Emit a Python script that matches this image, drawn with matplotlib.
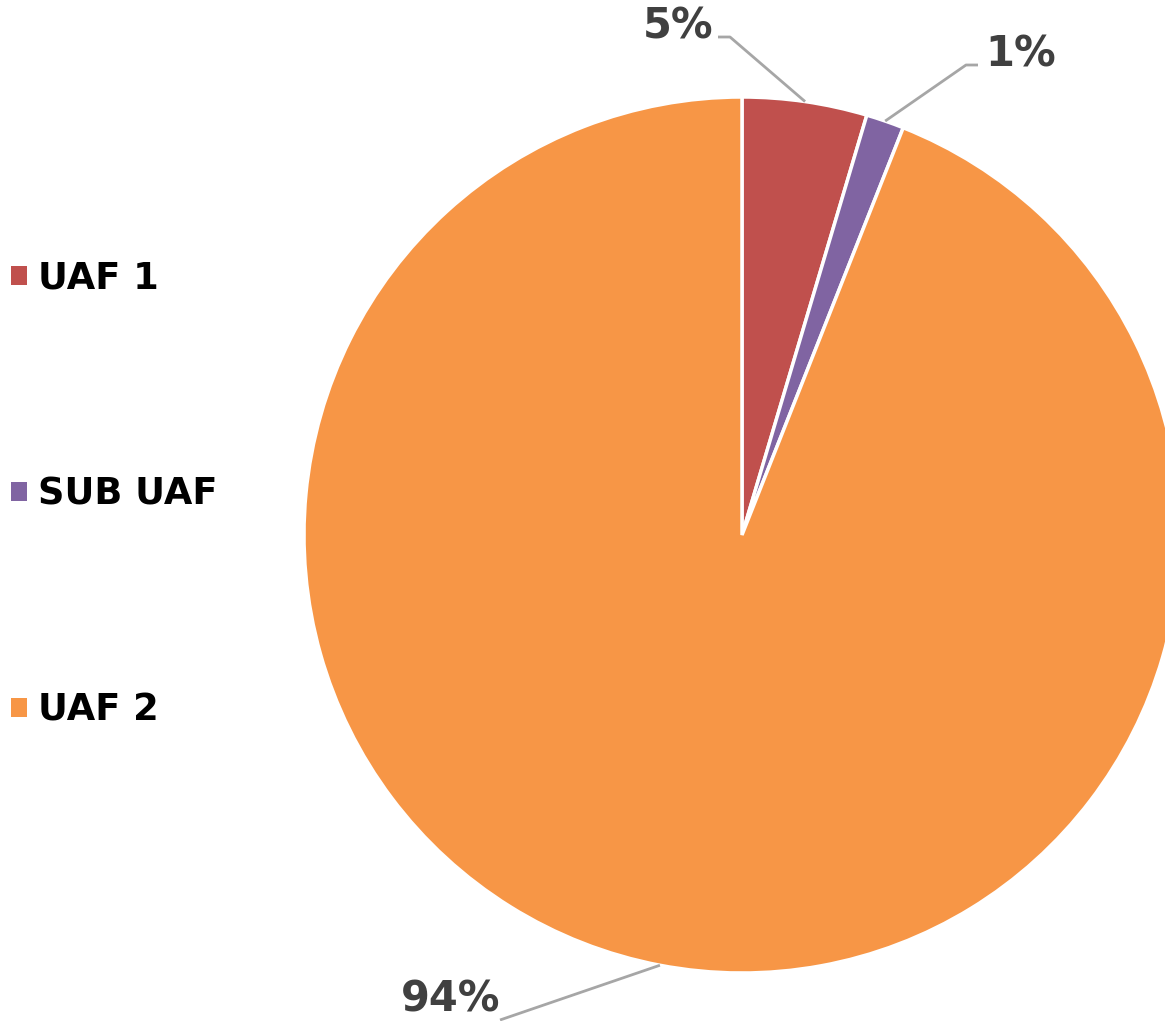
import numpy as np
import matplotlib
matplotlib.use('Agg')
import matplotlib.pyplot as plt

#Data
labels = ['UAF 1', 'SUB UAF', 'UAF 2']
values = [4.6, 1.4, 94.0]
colors = ['#C0504D', '#8064A2', '#F79646']

W, H = 1165, 1021
fig = plt.figure(figsize=(W/100, H/100), dpi=100)

#Pie centre and radius in pixels
cx, cy, R = 742, 535, 438
ax = fig.add_axes([(cx-R)/W, (H-cy-R)/H, 2*R/W, 2*R/H])

wedges, _ = ax.pie(values, colors=colors, startangle=90, counterclock=False, radius=1,
                   wedgeprops=dict(edgecolor='white', linewidth=2.5))
ax.set_xlim(-1, 1)
ax.set_ylim(-1, 1)
ax.axis('off')

def px2d(px, py):
    return (px-cx)/R, (cy-py)/R

#Label layout: (elbow px, end px, text px, ha)
layout = [((730, 37), (718, 37), (713, 26), 'right'),
          ((966, 65), (978, 65), (985, 54), 'left'),
          ((500, 1020), (500, 1020), (500, 1000), 'right')]

total = sum(values)
start = 90.0
for v, (elb, end, tp, ha) in zip(values, layout):
    mid = np.deg2rad(start - v/total*360/2)
    start -= v/total*360
    x0, y0 = np.cos(mid), np.sin(mid)
    ex, ey = px2d(*elb)
    nx, ny = px2d(*end)
    ax.plot([x0, ex, nx], [y0, ey, ny], color='#A6A6A6', lw=2, clip_on=False, solid_capstyle='butt')
    tx, ty = px2d(*tp)
    ax.text(tx, ty, '%d%%' % round(v), ha=ha, va='center', fontsize=30, fontweight='bold',
            color='#404040', clip_on=False)

leg = fig.legend(wedges, labels, loc='center left', bbox_to_anchor=(0.0, (H-494)/H),
                 frameon=False, fontsize=26.5, handlelength=0.42, handleheight=0.42,
                 handletextpad=0.3, labelspacing=4.86, borderaxespad=0, borderpad=0.3)
for t in leg.get_texts():
    t.set_fontweight('bold')
    t.set_color('black')
for h in leg.legend_handles:
    h.set_edgecolor('none')

fig.savefig('out.png', dpi=100)
